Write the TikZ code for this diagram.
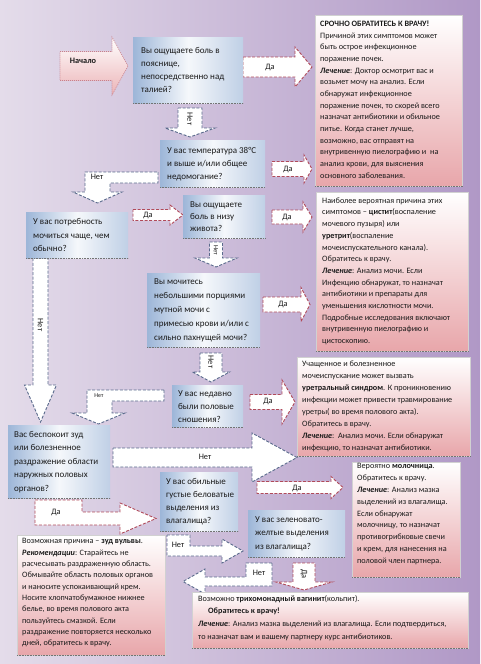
\documentclass[tikz,border=0pt]{standalone}
\usepackage{fontspec}
\setmainfont{Carlito}
\definecolor{bgL}{HTML}{E4DCEA}
\definecolor{bgR}{HTML}{B098C6}
\definecolor{qblue}{HTML}{9DB6D8}
\definecolor{apink}{HTML}{E8A6AA}
\definecolor{darr}{HTML}{B04A5A}
\definecolor{narr}{HTML}{5A6A8C}
\definecolor{txt}{HTML}{1A1A1A}
\newcommand{\myqf}{\fontsize{9}{13}\selectfont}
\newcommand{\myaf}{\fontsize{8.2}{11.7}\selectfont}
% right-pointing block arrow: style, x tail, x tip, y centre, shaft half, head half, head length
\newcommand{\rArrow}[7]{\draw[#1] (#2,{#4-#5}) -- ({#3-#7},{#4-#5}) -- ({#3-#7},{#4-#6}) -- (#3,#4) -- ({#3-#7},{#4+#6}) -- ({#3-#7},{#4+#5}) -- (#2,{#4+#5}) -- cycle;}
% down-pointing block arrow: style, x centre, y tail, y tip, shaft half, head half, head length
\newcommand{\dArrow}[7]{\draw[#1] ({#2-#5},#3) -- ({#2+#5},#3) -- ({#2+#5},{#4-#7}) -- ({#2+#6},{#4-#7}) -- (#2,#4) -- ({#2-#6},{#4-#7}) -- ({#2-#5},{#4-#7}) -- cycle;}
\tikzset{
  botdot/.style={draw=black!55, line width=1pt, dash pattern=on 0.8pt off 0.8pt},
  qbox/.style={rectangle, inner sep=0, anchor=north west, left color=qblue, right color=qblue!65, middle color=white!90!qblue,
    append after command={(\tikzlastnode.south west) edge[botdot] (\tikzlastnode.south east)}},
  abox/.style={rectangle, inner sep=0, anchor=north west, top color=white, bottom color=apink, draw=black!18, line width=0.4pt,
    append after command={(\tikzlastnode.south west) edge[botdot] (\tikzlastnode.south east)}},
  qtxt/.style={anchor=west, align=left, inner sep=0, font=\myqf, text=txt},
  atxt/.style={anchor=north west, align=left, inner sep=0, font=\myaf, text=txt},
  da/.style={fill=white, draw=darr, line width=0.9pt, dash pattern=on 3pt off 1.6pt},
  net/.style={fill=white, draw=narr, line width=0.9pt, dash pattern=on 3pt off 1.6pt},
  startarrow/.style={top color=white, bottom color=apink!85, draw=darr!70, line width=0.6pt, dash pattern=on 1pt off 1pt},
  lbl/.style={inner sep=0, font=\fontsize{8.3}{9}\selectfont, text=txt},
}
\begin{document}
\begin{tikzpicture}[x=1pt,y=-1pt]
\useasboundingbox (0,0) rectangle (480,664);
\shade[left color=bgL, right color=bgR] (0,0) rectangle (480,664);

% ---------- block arrows ----------
\rArrow{startarrow}{60}{128}{66}{14.5}{29}{16}
\node[lbl, font=\bfseries\fontsize{8.3}{9}\selectfont] (lstart) at (83,61) {Начало};

\rArrow{da}{243}{312}{67}{10}{20}{17}
\node[lbl] (l1) at (270,67) {Да};

\dArrow{net}{190}{108}{137}{12}{25}{9}
\node[lbl, rotate=-90] (l2) at (190,119) {Нет};

\rArrow{da}{272}{312}{169}{7.5}{14}{8}
\node[lbl] (l3) at (288,169) {Да};

\draw[net] (158,172) -- (158,183) -- (110,183) -- (110,192) -- (122,192) -- (97.5,203) -- (73,192) -- (85,192) -- (85,172) -- cycle;
\node[lbl] (l4) at (97,177) {Нет};

\rArrow{da}{272}{312}{217}{7}{15}{9}
\node[lbl] (l5) at (287,217) {Да};

\rArrow{da}{133}{183}{215}{5.5}{10}{13}
\node[lbl] (l6) at (148,215) {Да};

\dArrow{net}{216}{242}{267}{6.5}{21}{9}
\node[lbl, rotate=-90, font=\fontsize{6.5}{7}\selectfont] (l7) at (216,250) {Нет};

\rArrow{da}{263}{310}{304.5}{7.5}{17}{9}
\node[lbl] (l8) at (283,304.5) {Да};

\dArrow{net}{40.5}{258}{422}{7.5}{16}{37}
\node[lbl, rotate=-90] (l9) at (40.5,325) {Нет};

\dArrow{net}{211}{353}{382}{11}{18.5}{10}
\node[lbl, rotate=-90] (l10) at (211,362) {Нет};

\rArrow{da}{250}{295}{402}{7.5}{22}{13}
\node[lbl] (l11) at (268,401) {Да};

\draw[net] (164,390) -- (164,401) -- (112,401) -- (112,413) -- (125,413) -- (98.5,424) -- (72,413) -- (87,413) -- (87,390) -- cycle;
\node[lbl, font=\fontsize{6}{7}\selectfont] (l12) at (99,395.5) {Нет};

\rArrow{net}{113}{297}{457.5}{9.5}{24.5}{45}
\node[lbl] (l13) at (205,456.5) {Нет};

\draw[da] (35,500) -- (82,500) -- (82,512) -- (120,512) -- (120,503) -- (156,518.5) -- (120,534) -- (120,525) -- (35,525) -- cycle;
\node[lbl] (l14) at (56,512) {Да};

\rArrow{da}{257}{343}{487.5}{6}{11}{12}
\node[lbl] (l15) at (297,488) {Да};

\draw[net] (167,535) -- (190,535) -- (190,546) -- (222,546) -- (222,539) -- (243,551) -- (222,563) -- (222,556) -- (167,556) -- cycle;
\node[lbl] (l16) at (178,545) {Нет};

\draw[net] (272,563) -- (272,586) -- (205,586) -- (205,594) -- (183,581.5) -- (205,569) -- (205,577) -- (246,577) -- (246,563) -- cycle;
\node[lbl] (l17) at (259,573) {Нет};

\dArrow{da}{304}{563}{590}{11}{28}{8}
\node[lbl, rotate=-90] (l18) at (304,574) {Да};

% ---------- question boxes ----------
\node[qbox, minimum width=110pt, minimum height=66pt] (q1) at (133,37) {};
\node[qtxt] (q1t) at ([xshift=8pt]q1.west) {Вы ощущаете боль в\\пояснице,\\непосредственно над\\талией?};

\node[qbox, minimum width=105pt, minimum height=47pt] (q2) at (160,140) {};
\node[qtxt] (q2t) at ([xshift=7pt]q2.west) {У вас температура 38°C\\и выше и/или общее\\недомогание?};

\node[qbox, minimum width=82pt, minimum height=43pt] (q3) at (183,195) {};
\node[qtxt, font=\fontsize{9}{12}\selectfont] (q3t) at ([xshift=7pt]q3.west) {Вы ощущаете\\боль в низу\\живота?};

\node[qbox, minimum width=102pt, minimum height=46pt] (q4) at (26,212) {};
\node[qtxt, font=\fontsize{9}{13.5}\selectfont] (q4t) at ([xshift=7pt]q4.west) {У вас потребность\\мочиться чаще, чем\\обычно?};

\node[qbox, minimum width=113pt, minimum height=74pt] (q5) at (147,273) {};
\node[qtxt, font=\fontsize{9}{14}\selectfont] (q5t) at ([xshift=7pt]q5.west) {Вы мочитесь\\небольшими порциями\\мутной мочи с\\примесью крови и/или с\\сильно пахнущей мочи?};

\node[qbox, minimum width=71pt, minimum height=42pt] (q6) at (172,385) {};
\node[qtxt] (q6t) at ([xshift=6pt]q6.west) {У вас недавно\\были половые\\сношения?};

\node[qbox, minimum width=102pt, minimum height=73pt] (q7) at (8,425) {};
\node[qtxt, font=\fontsize{9}{13.5}\selectfont] (q7t) at ([xshift=6pt]q7.west) {Вас беспокоит зуд\\или болезненное\\раздражение области\\наружных половых\\органов?};

\node[qbox, minimum width=78pt, minimum height=59pt] (q8) at (160,472) {};
\node[qtxt] (q8t) at ([xshift=6pt]q8.west) {У вас обильные\\густые беловатые\\выделения из\\влагалища?};

\node[qbox, minimum width=97pt, minimum height=47pt] (q9) at (248,510) {};
\node[qtxt, font=\fontsize{9}{13.5}\selectfont] (q9t) at ([xshift=7pt]q9.west) {У вас зеленовато-\\желтые выделения\\из влагалища?};

% ---------- answer boxes ----------
\node[abox, minimum width=147pt, minimum height=171pt] (r1) at (315,15) {};
\node[atxt] (r1t) at (320,20.5) {\textbf{СРОЧНО ОБРАТИТЕСЬ К ВРАЧУ!}\\
Причиной этих симптомов может\\
быть острое инфекционное\\
поражение почек.\\
\textbf{\textit{Лечение}}: Доктор осмотрит вас и\\
возьмет мочу на анализ. Если\\
обнаружат инфекционное\\
поражение почек, то скорей всего\\
назначат антибиотики и обильное\\
питье. Когда станет лучше,\\
возможно, вас отправят на\\
внутривенную пиелографию и\ \ на\\
анализ крови, для выяснения\\
основного заболевания.};

\node[abox, minimum width=152pt, minimum height=159pt] (r2) at (316,192) {};
\node[atxt] (r2t) at (322,197.5) {Наиболее вероятная причина этих\\
симптомов – \textbf{цистит}(воспаление\\
мочевого пузыря) или\\
\textbf{уретрит}(воспаление\\
мочеиспускательного канала).\\
Обратитесь к врачу.\\
\textbf{\textit{Лечение}}: Анализ мочи. Если\\
Инфекцию обнаружат, то назначат\\
антибиотики и препараты для\\
уменьшения кислотности мочи.\\
Подробные исследования включают\\
внутривенную пиелографию и\\
цистоскопию.};

\node[abox, minimum width=173pt, minimum height=99pt] (r3) at (297,357) {};
\node[atxt, font=\fontsize{8.2}{12}\selectfont] (r3t) at (302,360.5) {Учащенное и болезненное\\
мочеиспускание может вызвать\\
\textbf{уретральный синдром}. К проникновению\\
инфекции может привести травмирование\\
уретры( во время полового акта).\\
Обратитесь в врачу.\\
\textbf{\textit{Лечение}}:\ \ Анализ мочи. Если обнаружат\\
инфекцию, то назначат антибиотики.};

\node[abox, minimum width=148pt, minimum height=120pt] (r4) at (17,535) {};
\node[atxt, font=\fontsize{8.2}{11.3}\selectfont] (r4t) at (22,538.5) {Возможная причина – \textbf{зуд вульвы}.\\
\textbf{\textit{Рекомендации}}: Старайтесь не\\
расчесывать раздраженную область.\\
Обмывайте область половых органов\\
и наносите успокаивающий крем.\\
Носите хлопчатобумажное нижнее\\
белье, во время полового акта\\
пользуйтесь смазкой. Если\\
раздражение повторяется несколько\\
дней, обратитесь к врачу.};

\node[abox, minimum width=108pt, minimum height=115pt] (r5) at (352,462) {};
\node[atxt, font=\fontsize{8.2}{11.8}\selectfont] (r5t) at (357,463.5) {Вероятно \textbf{молочница}.\\
Обратитесь к врачу.\\
\textbf{\textit{Лечение}}: Анализ мазка\\
выделений из влагалища.\\
Если обнаружат\\
молочницу, то назначат\\
противогрибковые свечи\\
и крем, для нанесения на\\
половой член партнера.};

\node[abox, minimum width=276pt, minimum height=56pt] (r6) at (192,592) {};
\node[atxt, font=\fontsize{8.2}{12.7}\selectfont] (r6t) at (198,595) {Возможно \textbf{трихомонадный вагинит}(кольпит).\\
\hspace*{10pt}\textbf{Обратитесь к врачу!}\\
\textbf{\textit{Лечение}}: Анализ мазка выделений из влагалища. Если подтвердиться,\\
то назначат вам и вашему партнеру курс антибиотиков.};

\end{tikzpicture}
\end{document}
